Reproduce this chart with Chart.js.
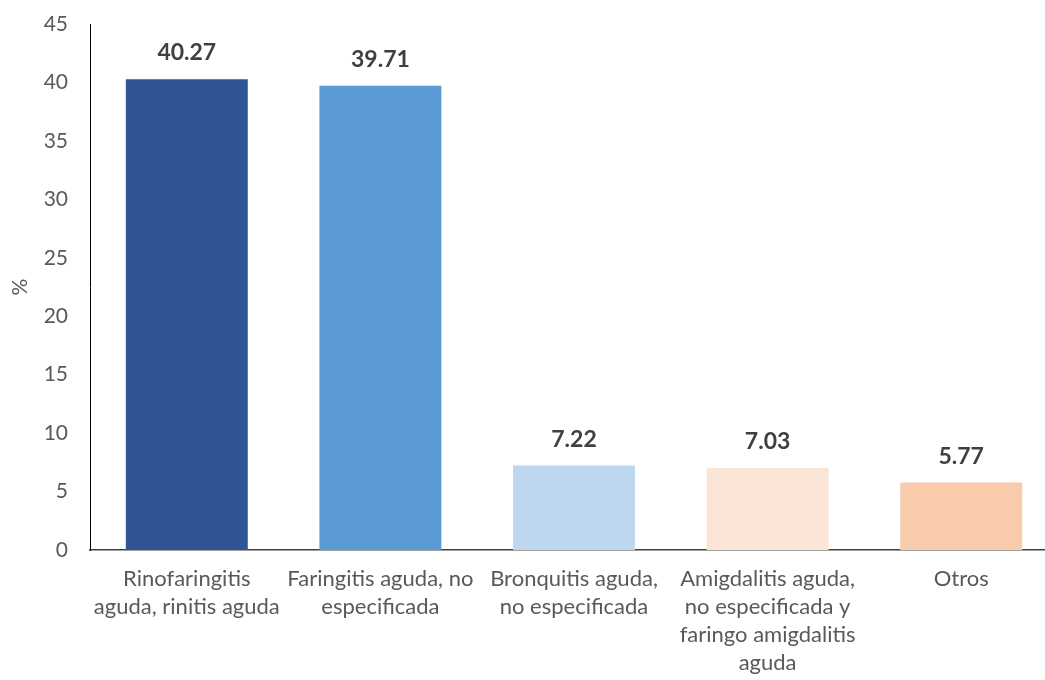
<!DOCTYPE html>
<html>
<head>
<meta charset="utf-8">
<script src="https://cdn.jsdelivr.net/npm/chart.js@4"></script>
<style>
  html, body { margin: 0; padding: 0; background: #fff; overflow: hidden; }
  #wrap { width: 1060px; height: 680px; }
</style>
</head>
<body>
<div id="wrap"><canvas id="chart" width="1060" height="680"></canvas></div>
<script>
// Causas de consulta respiratoria (%)
const categories = [
  ['Rinofaringitis', 'aguda, rinitis aguda'],
  ['Faringitis aguda, no', 'especificada'],
  ['Bronquitis aguda,', 'no especificada'],
  ['Amigdalitis aguda,', 'no especificada y', 'faringo amigdalitis', 'aguda'],
  ['Otros']
];
const values = [40.27, 39.71, 7.22, 7.03, 5.77];
const barColors = ['#2F5597', '#5B9BD5', '#BDD7EE', '#FBE5D6', '#F8CBAD'];
const yTicks = [0, 5, 10, 15, 20, 25, 30, 35, 40, 45];

const FONT = 'Lato, "Open Sans", sans-serif';

// value labels above each bar
const valueLabels = {
  id: 'valueLabels',
  afterDatasetsDraw(chart) {
    const ctx = chart.ctx;
    const meta = chart.getDatasetMeta(0);
    ctx.save();
    ctx.font = 'bold 23px ' + FONT;
    ctx.fillStyle = '#404040';
    ctx.textAlign = 'center';
    ctx.textBaseline = 'alphabetic';
    meta.data.forEach((bar, i) => {
      ctx.fillText(values[i].toFixed(2), bar.x, bar.y - 19);
    });
    ctx.restore();
  }
};

new Chart(document.getElementById('chart'), {
  type: 'bar',
  data: {
    labels: categories,
    datasets: [{
      data: values,
      backgroundColor: barColors,
      categoryPercentage: 1,
      barPercentage: 0.63
    }]
  },
  options: {
    responsive: false,
    animation: false,
    layout: { padding: { top: 24, right: 2, left: 0, bottom: 0 } },
    plugins: { legend: { display: false }, tooltip: { enabled: false } },
    scales: {
      x: {
        grid: { display: false, drawTicks: false },
        border: { display: true, color: '#404040', width: 1.5 },
        ticks: {
          color: '#595959',
          font: { family: FONT, size: 22, lineHeight: 1.27 },
          padding: 15,
          maxRotation: 0,
          autoSkip: false
        },
        afterFit(scale) { scale.height = 130; }
      },
      y: {
        min: 0,
        max: 45,
        afterBuildTicks(scale) { scale.ticks = yTicks.map(v => ({ value: v })); },
        grid: { display: false, drawTicks: false },
        border: { display: true, color: '#000', width: 1 },
        ticks: {
          color: '#595959',
          font: { family: FONT, size: 21 },
          padding: 22
        },
        title: {
          display: true,
          text: '%',
          color: '#595959',
          font: { family: FONT, size: 21 },
          padding: { top: 8, bottom: 0 }
        },
        afterFit(scale) {
          scale.width = 90;
          // top edge set by layout padding only
          scale.paddingTop = 0;
        }
      }
    }
  },
  plugins: [valueLabels]
});
</script>
</body>
</html>
